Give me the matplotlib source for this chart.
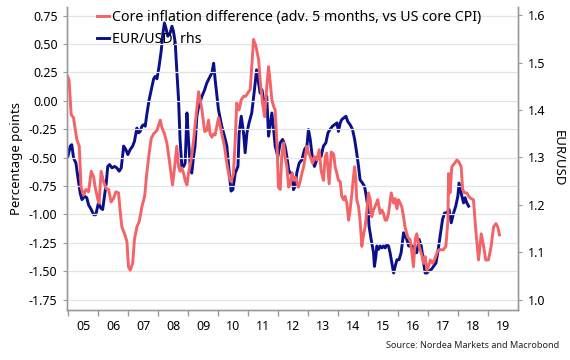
import matplotlib
matplotlib.use("Agg")
import matplotlib.pyplot as plt
from matplotlib.ticker import FixedLocator, NullFormatter, FixedFormatter

plt.rcParams["font.family"] = ["Noto Sans", "DejaVu Sans"]

# ---------- Data ----------
# core inflation difference, percentage points (left axis)
red_t = [2004.99, 2005.03, 2005.10, 2005.18, 2005.23, 2005.29, 2005.37, 2005.43, 2005.51, 2005.59,
         2005.68, 2005.77, 2005.85, 2005.90, 2005.99, 2006.03, 2006.10, 2006.18, 2006.26, 2006.35,
         2006.43, 2006.51, 2006.59, 2006.68, 2006.73, 2006.79, 2006.88, 2006.96, 2007.01, 2007.07,
         2007.15, 2007.21, 2007.29, 2007.37, 2007.46, 2007.55, 2007.62, 2007.70, 2007.77, 2007.85,
         2007.96, 2008.07, 2008.12, 2008.21, 2008.29, 2008.37, 2008.43, 2008.48, 2008.55, 2008.62,
         2008.68, 2008.73, 2008.79, 2008.85, 2008.90, 2008.96, 2009.01, 2009.10, 2009.18, 2009.26,
         2009.35, 2009.40, 2009.46, 2009.55, 2009.62, 2009.68, 2009.73, 2009.79, 2009.85, 2009.90,
         2010.01, 2010.12, 2010.21, 2010.29, 2010.37, 2010.43, 2010.51, 2010.57, 2010.62, 2010.70,
         2010.77, 2010.85, 2010.92, 2010.99, 2011.07, 2011.12, 2011.18, 2011.26, 2011.35, 2011.40,
         2011.48, 2011.55, 2011.62, 2011.68, 2011.73, 2011.79, 2011.85, 2011.90, 2011.96, 2012.01,
         2012.07, 2012.12, 2012.18, 2012.23, 2012.29, 2012.35, 2012.40, 2012.46, 2012.51, 2012.57,
         2012.62, 2012.68, 2012.73, 2012.79, 2012.85, 2012.96, 2013.01, 2013.07, 2013.15, 2013.21,
         2013.29, 2013.37, 2013.43, 2013.51, 2013.57, 2013.62, 2013.70, 2013.77, 2013.85, 2013.90,
         2013.96, 2014.01, 2014.07, 2014.12, 2014.18, 2014.23, 2014.29, 2014.35, 2014.40, 2014.46,
         2014.51, 2014.55, 2014.59, 2014.62, 2014.68, 2014.73, 2014.79, 2014.85, 2014.90, 2014.96,
         2015.01, 2015.07, 2015.12, 2015.18, 2015.23, 2015.32, 2015.40, 2015.46, 2015.51, 2015.57,
         2015.62, 2015.68, 2015.77, 2015.85, 2015.90, 2015.96, 2016.01, 2016.07, 2016.12, 2016.18,
         2016.23, 2016.32, 2016.40, 2016.46, 2016.51, 2016.57, 2016.62, 2016.70, 2016.79, 2016.85,
         2016.90, 2016.96, 2017.01, 2017.07, 2017.15, 2017.21, 2017.29, 2017.35, 2017.43, 2017.51,
         2017.59, 2017.66, 2017.68, 2017.73, 2017.79, 2017.88, 2017.96, 2018.03, 2018.10, 2018.15,
         2018.21, 2018.29, 2018.35, 2018.43, 2018.51, 2018.59, 2018.68, 2018.77, 2018.85, 2018.92,
         2019.01, 2019.10, 2019.18, 2019.26, 2019.32, 2019.38]
red_v = [0.21, 0.18, -0.12, -0.15, -0.24, -0.34, -0.40, -0.76, -0.83, -0.78,
         -0.80, -0.62, -0.67, -0.76, -0.87, -0.90, -0.62, -0.71, -0.77, -0.78,
         -0.89, -0.86, -0.80, -0.81, -0.96, -1.11, -1.17, -1.24, -1.46, -1.49,
         -1.43, -1.22, -1.11, -1.06, -0.93, -0.84, -0.64, -0.46, -0.33, -0.29,
         -0.26, -0.17, -0.23, -0.29, -0.37, -0.52, -0.64, -0.74, -0.58, -0.40,
         -0.58, -0.62, -0.59, -0.64, -0.70, -0.74, -0.64, -0.52, -0.35, -0.14,
         0.08, 0.01, -0.08, -0.27, -0.26, -0.17, -0.29, -0.32, -0.29, -0.30,
         -0.15, -0.29, -0.40, -0.55, -0.67, -0.71, -0.64, -0.34, -0.02, -0.08,
         0.01, 0.04, 0.04, 0.07, 0.10, 0.30, 0.54, 0.48, 0.36, 0.18,
         -0.02, -0.14, 0.12, 0.30, 0.18, 0.01, -0.05, -0.08, -0.37, -0.76,
         -0.78, -0.49, -0.37, -0.49, -0.58, -0.76, -0.73, -0.64, -0.70, -0.67,
         -0.71, -0.76, -0.71, -0.64, -0.58, -0.40, -0.46, -0.49, -0.55, -0.49,
         -0.52, -0.43, -0.61, -0.70, -0.49, -0.46, -0.73, -0.45, -0.47, -0.58,
         -0.64, -0.70, -0.71, -0.84, -0.87, -0.84, -0.90, -1.05, -0.96, -0.81,
         -0.67, -0.58, -0.70, -0.87, -0.93, -1.05, -1.28, -1.17, -1.11, -0.96,
         -0.81, -0.87, -1.02, -0.96, -0.93, -0.87, -0.99, -0.96, -0.99, -1.05,
         -1.05, -0.99, -0.81, -0.90, -0.86, -0.95, -0.87, -0.90, -0.93, -1.02,
         -1.11, -1.20, -1.22, -1.34, -1.46, -1.22, -1.17, -1.28, -1.36, -1.43,
         -1.37, -1.49, -1.46, -1.40, -1.43, -1.40, -1.34, -1.31, -1.31, -1.31,
         -1.28, -1.05, -0.64, -0.81, -0.58, -0.55, -0.52, -0.54, -0.58, -0.78,
         -0.81, -0.81, -0.84, -0.86, -0.87, -1.14, -1.40, -1.17, -1.28, -1.40,
         -1.40, -1.28, -1.11, -1.08, -1.11, -1.18]

# EUR/USD (right axis)
blue_t = [2004.99, 2005.07, 2005.12, 2005.18, 2005.26, 2005.32, 2005.40, 2005.46, 2005.55, 2005.62,
          2005.68, 2005.77, 2005.85, 2005.92, 2006.01, 2006.09, 2006.15, 2006.21, 2006.27, 2006.32,
          2006.38, 2006.46, 2006.55, 2006.62, 2006.70, 2006.77, 2006.85, 2006.92, 2006.99, 2007.07,
          2007.15, 2007.21, 2007.29, 2007.35, 2007.40, 2007.46, 2007.51, 2007.57, 2007.62, 2007.70,
          2007.77, 2007.85, 2007.90, 2007.96, 2008.03, 2008.10, 2008.16, 2008.21, 2008.26, 2008.32,
          2008.40, 2008.46, 2008.51, 2008.57, 2008.62, 2008.68, 2008.73, 2008.79, 2008.85, 2008.90,
          2008.96, 2009.01, 2009.07, 2009.12, 2009.18, 2009.23, 2009.29, 2009.35, 2009.46, 2009.55,
          2009.62, 2009.73, 2009.79, 2009.85, 2009.90, 2009.96, 2010.01, 2010.12, 2010.21, 2010.29,
          2010.37, 2010.43, 2010.49, 2010.57, 2010.66, 2010.70, 2010.77, 2010.85, 2010.90, 2010.96,
          2011.03, 2011.12, 2011.21, 2011.28, 2011.35, 2011.40, 2011.46, 2011.55, 2011.62, 2011.68,
          2011.73, 2011.79, 2011.85, 2011.90, 2011.99, 2012.07, 2012.15, 2012.23, 2012.29, 2012.35,
          2012.40, 2012.46, 2012.51, 2012.57, 2012.62, 2012.70, 2012.79, 2012.88, 2012.96, 2013.01,
          2013.07, 2013.15, 2013.21, 2013.29, 2013.37, 2013.43, 2013.51, 2013.59, 2013.66, 2013.73,
          2013.81, 2013.90, 2013.96, 2014.01, 2014.07, 2014.12, 2014.18, 2014.26, 2014.32, 2014.40,
          2014.48, 2014.55, 2014.62, 2014.68, 2014.73, 2014.81, 2014.88, 2014.92, 2014.99, 2015.03,
          2015.10, 2015.18, 2015.21, 2015.26, 2015.29, 2015.35, 2015.40, 2015.46, 2015.51, 2015.57,
          2015.62, 2015.68, 2015.73, 2015.79, 2015.85, 2015.90, 2015.96, 2016.03, 2016.10, 2016.18,
          2016.23, 2016.29, 2016.35, 2016.40, 2016.48, 2016.55, 2016.62, 2016.70, 2016.77, 2016.85,
          2016.90, 2016.96, 2017.01, 2017.10, 2017.18, 2017.26, 2017.32, 2017.40, 2017.48, 2017.55,
          2017.62, 2017.70, 2017.77, 2017.85, 2017.92, 2017.99, 2018.03, 2018.10, 2018.18, 2018.23,
          2018.29, 2018.35]
blue_v = [1.302, 1.324, 1.327, 1.299, 1.288, 1.260, 1.225, 1.211, 1.218, 1.215,
          1.200, 1.190, 1.179, 1.179, 1.204, 1.193, 1.190, 1.218, 1.246, 1.281,
          1.285, 1.278, 1.281, 1.278, 1.271, 1.278, 1.324, 1.317, 1.306, 1.317,
          1.324, 1.334, 1.362, 1.352, 1.355, 1.366, 1.369, 1.366, 1.390, 1.422,
          1.443, 1.466, 1.471, 1.466, 1.492, 1.524, 1.563, 1.584, 1.573, 1.556,
          1.563, 1.577, 1.566, 1.542, 1.485, 1.422, 1.338, 1.281, 1.281, 1.288,
          1.394, 1.338, 1.281, 1.267, 1.302, 1.324, 1.387, 1.408, 1.429, 1.443,
          1.457, 1.471, 1.478, 1.499, 1.464, 1.429, 1.401, 1.366, 1.345, 1.324,
          1.267, 1.229, 1.232, 1.267, 1.281, 1.352, 1.387, 1.350, 1.310, 1.352,
          1.373, 1.394, 1.443, 1.485, 1.457, 1.436, 1.443, 1.408, 1.429, 1.345,
          1.366, 1.394, 1.359, 1.324, 1.302, 1.331, 1.338, 1.324, 1.302, 1.274,
          1.267, 1.267, 1.232, 1.239, 1.267, 1.288, 1.295, 1.317, 1.324, 1.359,
          1.338, 1.295, 1.281, 1.295, 1.309, 1.302, 1.324, 1.331, 1.352, 1.359,
          1.366, 1.370, 1.373, 1.355, 1.373, 1.380, 1.383, 1.387, 1.376, 1.369,
          1.359, 1.338, 1.309, 1.281, 1.253, 1.246, 1.239, 1.225, 1.197, 1.155,
          1.127, 1.099, 1.070, 1.092, 1.113, 1.106, 1.113, 1.109, 1.113, 1.109,
          1.116, 1.113, 1.099, 1.077, 1.056, 1.070, 1.084, 1.084, 1.099, 1.141,
          1.134, 1.127, 1.113, 1.113, 1.113, 1.099, 1.099, 1.127, 1.113, 1.077,
          1.056, 1.056, 1.060, 1.063, 1.070, 1.077, 1.099, 1.134, 1.169, 1.183,
          1.183, 1.190, 1.162, 1.183, 1.197, 1.218, 1.246, 1.225, 1.204, 1.215,
          1.204, 1.197]

years = list(range(2005, 2020))
year_labels = [f"{y % 100:02d}" for y in years]
left_ticks = [0.75, 0.5, 0.25, 0.0, -0.25, -0.5, -0.75, -1.0, -1.25, -1.5, -1.75]
right_ticks = [1.0, 1.1, 1.2, 1.3, 1.4, 1.5, 1.6]

RED = "#f26467"
BLUE = "#0a0f8c"
SPINE = "#9a9a9a"

# ---------- Plot ----------
fig = plt.figure(figsize=(5.7, 3.6), dpi=100)
ax = fig.add_axes([0.118, 0.139, 0.791, 0.842])
ax2 = ax.twinx()

ax.set_zorder(ax2.get_zorder() + 1)
ax.patch.set_visible(False)

l1, = ax.plot(red_t, red_v, color=RED, lw=2.1, solid_joinstyle="round",
              label="Core inflation difference (adv. 5 months, vs US core CPI)")
l2, = ax2.plot(blue_t, blue_v, color=BLUE, lw=2.1, solid_joinstyle="round",
               label="EUR/USD, rhs")

ax.set_xlim(2004.97, 2020.0)
ax.set_ylim(-1.84, 0.827)
ax2.set_ylim(0.978, 1.618)

ax.set_yticks(left_ticks)
ax.set_yticklabels([f"{t:.2f}" for t in left_ticks])
ax2.set_yticks(right_ticks)
ax2.set_yticklabels([f"{t:.1f}" for t in right_ticks])

# year ticks at boundaries, labels centred in the year
ax.xaxis.set_major_locator(FixedLocator(years))
ax.xaxis.set_major_formatter(NullFormatter())
ax.xaxis.set_minor_locator(FixedLocator([y + 0.5 for y in years]))
ax.xaxis.set_minor_formatter(FixedFormatter(year_labels))
ax.tick_params(axis="x", which="major", length=4, color=SPINE, width=1)
ax.tick_params(axis="x", which="minor", length=0, pad=7, labelsize=9)

ax.tick_params(axis="y", length=3, color=SPINE, labelsize=9, pad=4)
ax2.tick_params(axis="y", length=3, color=SPINE, labelsize=9, pad=4)

ax.grid(axis="y", color="#e3e3e3", lw=0.9)
ax.set_axisbelow(True)

for a in (ax, ax2):
    a.spines["top"].set_visible(False)
    for s in ("left", "right", "bottom"):
        a.spines[s].set_color(SPINE)
        a.spines[s].set_linewidth(1.0)

ax.set_ylabel("Percentage points", fontsize=9.5, labelpad=4)
ax2.set_ylabel("EUR/USD", fontsize=9.5, rotation=270, labelpad=14)

ax.legend(handles=[l1, l2], loc="upper left", bbox_to_anchor=(0.062, 0.995),
          frameon=False, fontsize=10.2, handlelength=0.9, handletextpad=0.2,
          borderaxespad=0, borderpad=0.1, labelspacing=0.5)

fig.text(0.982, 0.04, "Source: Nordea Markets and Macrobond", ha="right", va="center",
         fontsize=6.5, color="#222222")

fig.savefig("out.png", dpi=100)
